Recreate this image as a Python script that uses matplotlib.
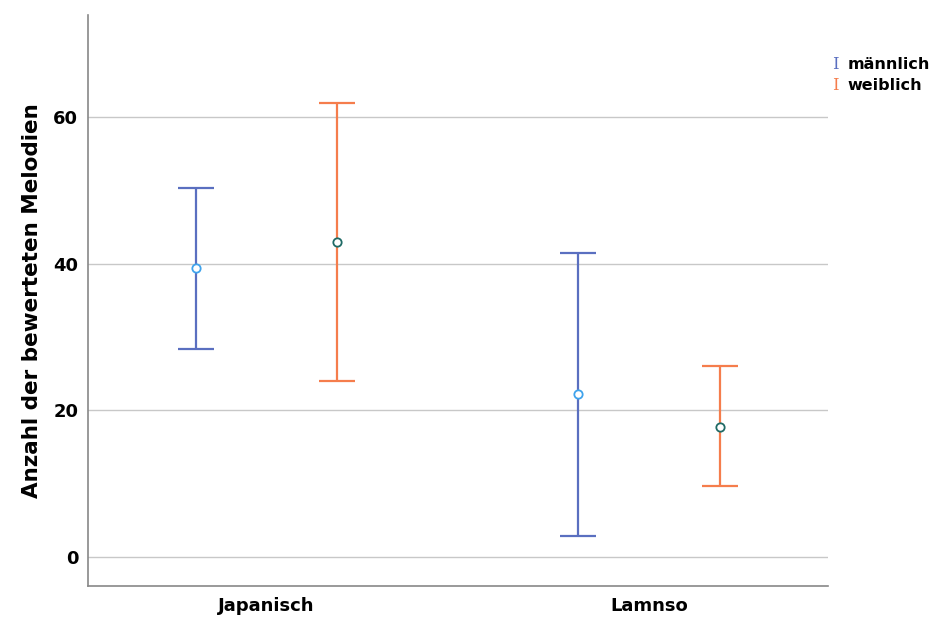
import numpy as np
import matplotlib.pyplot as plt

categories = ['Japanisch', 'Lamnso']
groups = ['männlich', 'weiblich']
means = {'männlich': [39.4, 22.2], 'weiblich': [43.0, 17.7]}
lower = {'männlich': [28.4, 2.8], 'weiblich': [24.0, 9.6]}
upper = {'männlich': [50.4, 41.5], 'weiblich': [62.0, 26.0]}

line_colors = {'männlich': '#5a6fc0', 'weiblich': '#f57d4c'}
marker_colors = {'männlich': '#3fa3ec', 'weiblich': '#1f6b66'}
offsets = {'männlich': -0.185, 'weiblich': 0.185}

fig = plt.figure(figsize=(9.33, 6.17), dpi=100)
ax = fig.add_axes([0.0943, 0.0502, 0.7932, 0.9255])

x = np.arange(len(categories))
for g in groups:
    xs = x + offsets[g]
    m = np.array(means[g])
    err = np.array([m - np.array(lower[g]), np.array(upper[g]) - m])
    ax.errorbar(xs, m, yerr=err, fmt='none', ecolor=line_colors[g],
                elinewidth=1.6, capsize=13, capthick=1.6, zorder=3)
    ax.plot(xs, m, 'o', mfc='white', mec=marker_colors[g], ms=6, mew=1.3, zorder=4)

ax.set_xlim(-0.467, 1.468)
ax.set_ylim(-4, 74)
ax.set_yticks([0, 20, 40, 60])
ax.set_xticks(x)
ax.set_xticklabels(categories, fontsize=13, fontweight='bold')
ax.tick_params(axis='y', labelsize=13, length=0, pad=7)
ax.tick_params(axis='x', length=0, pad=8)
for lab in ax.get_yticklabels():
    lab.set_fontweight('bold')
ax.grid(axis='y', color='#c8c8c8', linewidth=1)
ax.set_axisbelow(True)
for s in ['top', 'right']:
    ax.spines[s].set_visible(False)
for s in ['left', 'bottom']:
    ax.spines[s].set_color('#888888')
    ax.spines[s].set_linewidth(1.2)
ax.set_ylabel('Anzahl der bewerteten Melodien', fontsize=15.5, fontweight='bold', labelpad=8)

# legend outside the axes
for i, g in enumerate(groups):
    y = 0.895 - i * 0.034
    fig.text(0.892, y, 'I', color=line_colors[g], fontsize=12, family='DejaVu Serif', va='center')
    fig.text(0.908, y, g, color='black', fontsize=11.5, fontweight='bold', va='center')

fig.savefig('out.png', dpi=100)
